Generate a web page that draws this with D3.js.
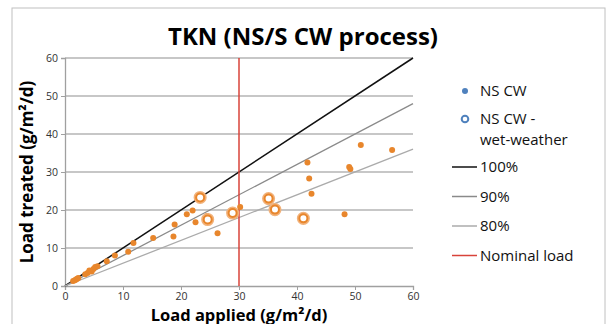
<!DOCTYPE html>
<html>
<head>
<meta charset="utf-8">
<script src="https://cdn.jsdelivr.net/npm/d3@7"></script>
<style>
  body { margin: 0; background: #fff; }
  text { font-family: "Open Sans", sans-serif; }
</style>
</head>
<body>
<script>
'use strict';

// NS CW (dry weather) points
const nsX = [1.4, 1.7, 1.9, 2.1, 2.3, 3.5, 3.9, 4.2, 4.6, 4.9, 5.2, 5.6, 7.2, 8.6, 10.9, 11.8, 15.2, 18.7, 18.9,
             21.0, 22.0, 22.5, 24.5, 26.3, 30.2, 41.8, 42.1, 42.5, 48.2, 49.0, 49.2, 51.0, 56.4];
const nsY = [1.3, 1.5, 1.7, 1.9, 2.1, 3.1, 3.4, 4.1, 3.8, 4.5, 5.0, 5.2, 6.5, 8.0, 9.0, 11.3, 12.6, 13.0, 16.2,
             18.9, 19.9, 16.8, 18.4, 13.9, 20.8, 32.5, 28.3, 24.3, 18.9, 31.3, 30.8, 37.1, 35.8];
// NS CW wet-weather points
const wetX = [23.3, 24.6, 28.9, 35.1, 36.2, 41.1];
const wetY = [23.3, 17.5, 19.2, 23.0, 20.1, 17.8];
// reference lines: name and slope as drawn
const refNames = ["100%", "90%", "80%"];
const refSlopes = [1, 0.8, 0.6];
const refColors = ["#111", "#8a8a8a", "#ababab"];
const nominalLoad = 30;
const ticks = [0, 10, 20, 30, 40, 50, 60];

const width = 607, height = 324;
const margin = {left: 65, right: 194, top: 58, bottom: 38};

const svg = d3.select("body").append("svg")
    .attr("width", width)
    .attr("height", height);

// chart frame
svg.append("rect")
    .attr("x", 12).attr("y", 8)
    .attr("width", 593).attr("height", 330)
    .attr("fill", "none")
    .attr("stroke", "#c0c0c0");

let x = d3.scaleLinear().domain([0, 60]).range([margin.left, width - margin.right]);
let y = d3.scaleLinear().domain([0, 60]).range([height - margin.bottom, margin.top]);

// gridlines
svg.append("g")
    .selectAll("line")
    .data(ticks.slice(1))
    .enter().append("line")
    .attr("x1", x(0)).attr("x2", x(60))
    .attr("y1", d => y(d)).attr("y2", d => y(d))
    .attr("stroke", "#b4b4b4")
    .attr("stroke-width", 1.3);

// axes
let xAxis = svg.append("g")
    .attr("transform", "translate(0," + y(0) + ")")
    .call(d3.axisBottom(x).tickValues(ticks).tickSize(4).tickPadding(3));
let yAxis = svg.append("g")
    .attr("transform", "translate(" + x(0) + ",0)")
    .call(d3.axisLeft(y).tickValues(ticks).tickSize(4).tickPadding(3));
[xAxis, yAxis].forEach(a => {
    a.select(".domain").attr("stroke", "#a0a0a0").attr("stroke-width", 1.3);
    a.selectAll(".tick line").attr("stroke", "#a0a0a0");
    a.selectAll(".tick text").attr("fill", "#333").style("font-size", "10.5px")
        .style("font-family", "'Open Sans', sans-serif");
});

// reference lines
svg.append("g")
    .selectAll("line")
    .data(refSlopes)
    .enter().append("line")
    .attr("x1", x(0)).attr("y1", y(0))
    .attr("x2", x(60)).attr("y2", d => y(60 * d))
    .attr("stroke", (d, i) => refColors[i])
    .attr("stroke-width", (d, i) => i == 0 ? 1.5 : 1.3);

// nominal load
svg.append("line")
    .attr("x1", x(nominalLoad)).attr("x2", x(nominalLoad))
    .attr("y1", y(0)).attr("y2", y(60))
    .attr("stroke", "#d8433a")
    .attr("stroke-width", 1.5);

// points
svg.append("g")
    .selectAll("circle")
    .data(d3.zip(nsX, nsY))
    .enter().append("circle")
    .attr("cx", d => x(d[0])).attr("cy", d => y(d[1]))
    .attr("r", 3)
    .attr("fill", "#e8862c");

let wet = svg.append("g");
wet.selectAll("circle.halo")
    .data(d3.zip(wetX, wetY))
    .enter().append("circle")
    .attr("cx", d => x(d[0])).attr("cy", d => y(d[1]))
    .attr("r", 4.8)
    .attr("fill", "none")
    .attr("stroke", "#f2b27a")
    .attr("stroke-width", 3.5);
wet.selectAll("circle.ring")
    .data(d3.zip(wetX, wetY))
    .enter().append("circle")
    .attr("cx", d => x(d[0])).attr("cy", d => y(d[1]))
    .attr("r", 4)
    .attr("fill", "#fff")
    .attr("stroke", "#e8862c")
    .attr("stroke-width", 2);

// titles
svg.append("text")
    .attr("x", 303).attr("y", 45)
    .attr("text-anchor", "middle")
    .style("font-size", "24px").style("font-weight", "bold")
    .text("TKN (NS/S CW process)");

svg.append("text")
    .attr("x", (x(0) + x(60)) / 2).attr("y", 321)
    .attr("text-anchor", "middle")
    .style("font-size", "16.5px").style("font-weight", "bold")
    .text("Load applied (g/m²/d)");

svg.append("text")
    .attr("transform", "translate(33," + y(30) + ") rotate(-90)")
    .attr("text-anchor", "middle")
    .style("font-size", "17px").style("font-weight", "bold")
    .text("Load treated (g/m²/d)");

// legend
let lg = svg.append("g").style("font-size", "15px").attr("fill", "#111");
lg.append("circle").attr("cx", 465).attr("cy", 91).attr("r", 3).attr("fill", "#4f81bd");
lg.append("text").attr("x", 480).attr("y", 96).text("NS CW");
lg.append("circle").attr("cx", 465).attr("cy", 119).attr("r", 3.3)
    .attr("fill", "#fff").attr("stroke", "#4f81bd").attr("stroke-width", 2);
lg.append("text").attr("x", 480).attr("y", 124).text("NS CW -");
lg.append("text").attr("x", 480).attr("y", 145).text("wet-weather");

let legendLines = refNames.map((n, i) => ({name: n, color: refColors[i]}))
    .concat([{name: "Nominal load", color: "#d8433a"}]);
lg.selectAll("line")
    .data(legendLines)
    .enter().append("line")
    .attr("x1", 452).attr("x2", 477)
    .attr("y1", (d, i) => 167 + i * 29.5).attr("y2", (d, i) => 167 + i * 29.5)
    .attr("stroke", d => d.color)
    .attr("stroke-width", 1.5);
lg.selectAll("text.item")
    .data(legendLines)
    .enter().append("text")
    .attr("x", 480).attr("y", (d, i) => 172 + i * 29.5)
    .text(d => d.name);
</script>
</body>
</html>
